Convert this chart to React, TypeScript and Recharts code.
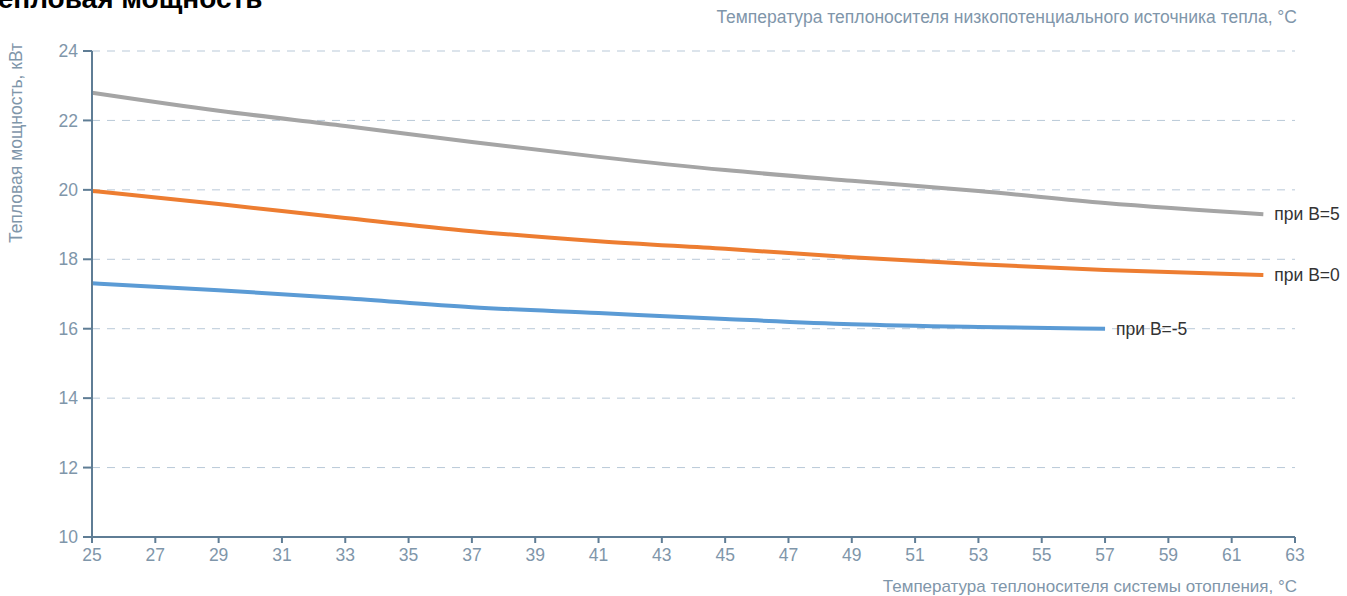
import React from 'react';
import { LineChart, Line, XAxis, YAxis, CartesianGrid, LabelList } from 'recharts';

// температура системы отопления, °C
const temps = [25, 29, 33, 37, 41, 45, 49, 53, 57, 62];
// тепловая мощность, кВт
const powerB5 = [22.8, 22.28, 21.84, 21.38, 20.95, 20.57, 20.26, 19.97, 19.62, 19.3];
const powerB0 = [19.97, 19.59, 19.19, 18.81, 18.52, 18.3, 18.06, 17.86, 17.69, 17.55];
const powerBm5 = [17.31, 17.11, 16.88, 16.62, 16.45, 16.28, 16.13, 16.05, 16.0, null];

const xTicks = [25, 27, 29, 31, 33, 35, 37, 39, 41, 43, 45, 47, 49, 51, 53, 55, 57, 59, 61, 63];
const yTicks = [10, 12, 14, 16, 18, 20, 22, 24];

const data = temps.map((t, i) => ({ t, b5: powerB5[i], b0: powerB0[i], bm5: powerBm5[i] }));

const AXIS = '#5f7d95';
const TICK = '#7f96aa';
const FONT = '"Liberation Sans", Arial, sans-serif';

// подпись только у последней точки линии
const endLabel = (text: string, lastIndex: number) => (props: any) => {
  const { x, y, index } = props;
  if (index !== lastIndex) return null;
  return (
    <text x={x + 11} y={y + 6} fontSize={17.5} fill="#333" fontFamily={FONT}>{text}</text>
  );
};

export default function App() {
  return (
    <div style={{ position: 'absolute', left: 0, top: 0, width: 1347, height: 596, background: '#fff', overflow: 'hidden', fontFamily: FONT }}>
      <LineChart width={1347} height={596} data={data} margin={{ top: 51, right: 52, left: 52, bottom: 29 }}>
        <text x={-18} y={8} fontSize={28} fontWeight="bold" fill="#000" fontFamily={FONT}>Тепловая мощность</text>
        <text x={1297} y={23} textAnchor="end" fontSize={17.5} fill={TICK} fontFamily={FONT}>
          Температура теплоносителя низкопотенциального источника тепла, °C
        </text>
        <text x={1297} y={592} textAnchor="end" fontSize={17} fill={TICK} fontFamily={FONT}>
          Температура теплоносителя системы отопления, °C
        </text>
        <text x={22} y={143} textAnchor="middle" fontSize={17.5} fill={TICK} fontFamily={FONT} transform="rotate(-90 22 143)">
          Тепловая мощность, кВт
        </text>
        <CartesianGrid vertical={false} stroke="#b9c9d8" strokeDasharray="8 7" />
        <XAxis
          dataKey="t"
          type="number"
          domain={[25, 63]}
          ticks={xTicks}
          height={30}
          stroke={AXIS}
          strokeWidth={2}
          tickSize={6}
          tickMargin={6}
          tick={{ fill: TICK, fontSize: 17.5, fontFamily: FONT }}
        />
        <YAxis
          type="number"
          domain={[10, 24]}
          ticks={yTicks}
          width={40}
          stroke={AXIS}
          strokeWidth={2}
          tickSize={9}
          tickMargin={5}
          tick={{ fill: TICK, fontSize: 17.5, fontFamily: FONT }}
        />
        <Line type="monotone" dataKey="b5" stroke="#a5a5a5" strokeWidth={4} dot={false} isAnimationActive={false}>
          <LabelList dataKey="b5" content={endLabel('при B=5', powerB5.length - 1)} />
        </Line>
        <Line type="monotone" dataKey="b0" stroke="#ed7d31" strokeWidth={4} dot={false} isAnimationActive={false}>
          <LabelList dataKey="b0" content={endLabel('при B=0', powerB0.length - 1)} />
        </Line>
        <Line type="monotone" dataKey="bm5" stroke="#5b9bd5" strokeWidth={4} dot={false} isAnimationActive={false}>
          <LabelList dataKey="bm5" content={endLabel('при B=-5', 8)} />
        </Line>
      </LineChart>
    </div>
  );
}
